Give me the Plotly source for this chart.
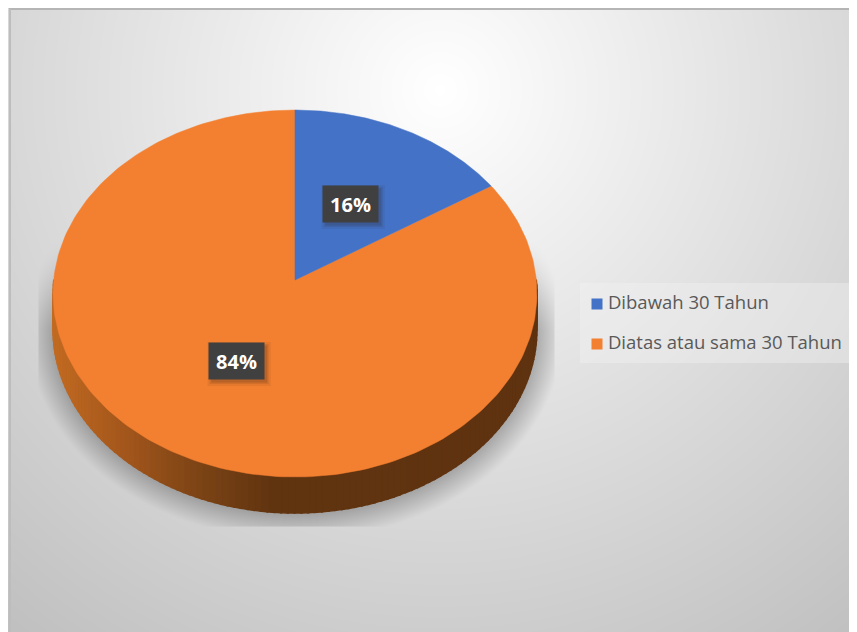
import numpy as np
import plotly.graph_objects as go

categories = ["Dibawah 30 Tahun", "Diatas atau sama 30 Tahun"]
values = [16, 84]
slice_colors = ["#4472C6", "#F37F30"]

W, H = 857, 632
BODY = 8                          # page margin of the written html
PANEL = (9, 9, 857, 632)          # chart area in page pixels
APEX = (295.0, 280.0)             # projected pie centre
K = 0.0736                        # perspective
SX, SY = 241.3, 182.5             # projected radii
DEPTH = 36.0                      # pie thickness


def project(theta, rho=1.0):
    """Circle angle (clockwise from 12 o'clock) to pixel position, with perspective."""
    u, v = rho * np.sin(theta), rho * np.cos(theta)
    d = 1 + K * v
    return APEX[0] + SX * u / d, APEX[1] - SY * v / d


# ---------- background (radial grey) with the pie's soft shadow ----------
gx = np.arange(PANEL[0], PANEL[2] + 2, 2.0)
gy = np.arange(PANEL[1], PANEL[3] + 2, 2.0)
X, Y = np.meshgrid(gx, gy)
bg = 255 - 0.092 * np.hypot(X - 440, Y - 90)

cx, cy, rx, ry = 295.0, 329.5, 242.0, 183.5
r = np.hypot((X - cx) / rx, (Y - cy) / ry)
grad = np.hypot((X - cx) / rx**2, (Y - cy) / ry**2) / np.maximum(r, 1e-6)
dist = (r - 1) / np.maximum(grad, 1e-6)
shadow = np.clip(1 - dist / 26.0, 0, 1)
shadow *= np.clip((Y - 240) / 90.0, 0, 1)
shadow *= ((X >= 38) & (X <= 553) & (Y <= 525))
z = bg * (1 - 0.25 * shadow)

fig = go.Figure()
fig.add_trace(go.Heatmap(
    x=gx, y=gy, z=z, zmin=0, zmax=255, zsmooth="best",
    colorscale=[[0, "#000000"], [1, "#ffffff"]],
    showscale=False, hoverinfo="skip",
))

# ---------- side wall ----------
stops_x = [53, 130, 200, 270, 537]
stops_rgb = np.array([[194, 106, 34], [160, 85, 27], [123, 67, 21], [97, 52, 16], [95, 51, 16]])
edges = np.linspace(np.pi / 2, 3 * np.pi / 2, 121)
for a, b in zip(edges[:-1], edges[1:]):
    t = np.linspace(a - 0.003, b + 0.003, 4)
    px, py = project(t)
    sx = np.concatenate([px, px[::-1]])
    sy = np.concatenate([py, py[::-1] + DEPTH])
    c = [np.interp(px.mean(), stops_x, stops_rgb[:, i]) for i in range(3)]
    col = f"rgb({c[0]:.0f},{c[1]:.0f},{c[2]:.0f})"
    fig.add_trace(go.Scatter(
        x=sx, y=sy, mode="lines", fill="toself", fillcolor=col,
        line=dict(color=col, width=1.5), showlegend=False, hoverinfo="skip",
    ))

# ---------- top face ----------
fractions = np.array(values, float) / sum(values)
bounds = np.concatenate([[0], np.cumsum(fractions)]) * 2 * np.pi
for i in [1, 0]:
    t = np.linspace(bounds[i], bounds[i + 1], 240)
    px, py = project(t)
    fig.add_trace(go.Scatter(
        x=np.concatenate([[APEX[0]], px, [APEX[0]]]),
        y=np.concatenate([[APEX[1]], py, [APEX[1]]]),
        mode="lines", fill="toself", fillcolor=slice_colors[i],
        line=dict(color=slice_colors[i], width=0.5),
        name=categories[i], showlegend=False, hoverinfo="skip",
    ))

# ---------- data labels ----------
shapes, annotations = [], []
LABEL_W, LABEL_H = 55, 36
for i, v in enumerate(values):
    mid = (bounds[i] + bounds[i + 1]) / 2
    lx, ly = project(mid, 0.49)
    for grow, alpha in [(5, 0.07), (3, 0.10), (1.5, 0.14)]:
        shapes.append(dict(
            type="rect", layer="above", line_width=0, fillcolor=f"rgba(40,30,20,{alpha})",
            x0=lx - LABEL_W / 2 + 2 - grow + 2, x1=lx + LABEL_W / 2 + 2 + grow,
            y0=ly - LABEL_H / 2 + 2 - grow + 2, y1=ly + LABEL_H / 2 + 2 + grow,
        ))
    annotations.append(dict(
        x=lx, y=ly, xref="x", yref="y", text=f"{v}%", showarrow=False,
        width=LABEL_W, height=LABEL_H, bgcolor="#404040", borderpad=0,
        font=dict(family="Open Sans", size=20, color="#ffffff", weight="bold"),
    ))

# ---------- legend ----------
box_x, box_y = [580, 852, 852, 580, 580], [283, 283, 363, 363, 283]
fig.add_trace(go.Scatter(
    x=box_x, y=box_y, mode="lines", fill="toself", fillcolor="rgba(242,242,242,0.40)",
    line_width=0, showlegend=False, hoverinfo="skip",
))
LEG_X, LEG_Y, LEG_STEP = 597, 304, 40
fig.add_trace(go.Scatter(
    x=[LEG_X] * 2, y=[LEG_Y + LEG_STEP * i for i in range(2)],
    mode="markers+text", text=["\u2009" + c for c in categories], textposition="middle right",
    textfont=dict(family="Open Sans", size=18.5, color="#595959"),
    marker=dict(symbol="square", size=11, color=slice_colors, line_width=0),
    showlegend=False, hoverinfo="skip",
))

# ---------- chart frame ----------
shapes.append(dict(type="line", layer="above", x0=PANEL[0], x1=PANEL[2], y0=PANEL[1], y1=PANEL[1],
                   line=dict(color="#B5B5B5", width=2)))
shapes.append(dict(type="line", layer="above", x0=PANEL[0] + 1, x1=PANEL[0] + 1, y0=PANEL[1], y1=PANEL[3],
                   line=dict(color="#BDBDBD", width=2)))

fig.update_layout(
    width=W - BODY, height=H - BODY, autosize=False,
    margin=dict(l=0, r=0, t=0, b=0),
    paper_bgcolor="#ffffff", plot_bgcolor="#ffffff",
    xaxis=dict(range=[BODY, W], visible=False, fixedrange=True),
    yaxis=dict(range=[H, BODY], visible=False, fixedrange=True),
    shapes=shapes, annotations=annotations, showlegend=False,
)
fig.write_html("out.html", config={"displayModeBar": False})
